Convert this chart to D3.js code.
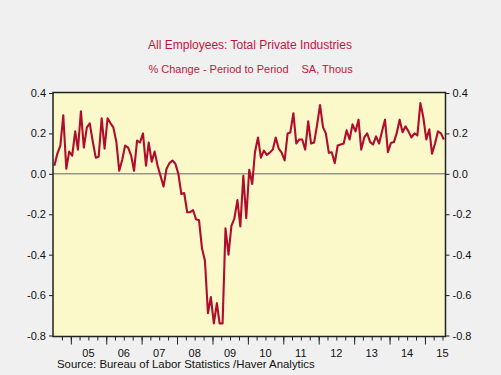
<!DOCTYPE html>
<html>
<meta charset="utf-8" />
<style>
  body { margin: 0; background: #f0f0f0; }
  text { font-family: "Liberation Sans", Arial, sans-serif; }
</style>
<svg width="501" height="375"></svg>
<script src="https://d3js.org/d3.v7.min.js"></script>
<script>
  // monthly % change, private payrolls, starting Jul 2004
  const firstMonth = "2004-07";
  const values = [
    0.04, 0.10, 0.14, 0.29, 0.025, 0.11, 0.09, 0.21, 0.12, 0.31, 0.13, 0.23,
    0.25, 0.16, 0.08, 0.085, 0.275, 0.125, 0.275, 0.25, 0.23, 0.16, 0.015, 0.07,
    0.14, 0.13, 0.09, 0.015, 0.165, 0.155, 0.2, 0.04, 0.155, 0.06, 0.11, 0.04,
    -0.01, -0.063, 0.025, 0.053, 0.066, 0.05, 0.0, -0.1, -0.095, -0.19, -0.19, -0.18,
    -0.225, -0.23, -0.37, -0.43, -0.69, -0.61, -0.74, -0.64, -0.74, -0.74, -0.27, -0.4,
    -0.257, -0.22, -0.13, -0.26, -0.01, -0.22, 0.02, -0.05, 0.107, 0.18, 0.08, 0.115,
    0.094, 0.105, 0.12, 0.18, 0.125, 0.105, 0.066, 0.2, 0.205, 0.3, 0.15, 0.17,
    0.17, 0.12, 0.26, 0.15, 0.155, 0.24, 0.34, 0.23, 0.2, 0.104, 0.107, 0.053,
    0.14, 0.145, 0.15, 0.215, 0.17, 0.245, 0.21, 0.268, 0.12, 0.18, 0.2, 0.157,
    0.145, 0.185, 0.15, 0.21, 0.268, 0.107, 0.152, 0.157, 0.2, 0.268, 0.206, 0.235,
    0.21, 0.18, 0.2, 0.19, 0.35, 0.28, 0.17, 0.22, 0.1, 0.15, 0.21, 0.2,
    0.17,
  ];
  const yTicks = [-0.8, -0.6, -0.4, -0.2, 0.0, 0.2, 0.4];
  const yearLabels = ["05", "06", "07", "08", "09", "10", "11", "12", "13", "14", "15"];

  const title = "All Employees: Total Private Industries";
  const subtitleLeft = "% Change - Period to Period";
  const subtitleRight = "SA, Thous";
  const source = "Source:  Bureau of Labor Statistics /Haver Analytics";

  const red = "#b00c2d";
  const textRed = "#c0163d";

  var svg = d3.select("svg");

  var start = d3.timeParse("%Y-%m")(firstMonth);
  var end = d3.timeMonth.offset(start, values.length);
  var data = values.map((v, i) => ({
    date: d3.timeDay.offset(d3.timeMonth.offset(start, i), 14),
    value: v,
  }));

  var plotLeft = 53, plotRight = 445.5, plotTop = 92.5, plotBottom = 336.5;
  var x = d3.scaleTime().domain([start, end]).range([plotLeft, plotRight]);
  var y = d3.scaleLinear().domain([-0.8, 0.4]).range([335.5, 93]);

  // plot area
  svg.append("rect")
    .attr("x", plotLeft).attr("y", plotTop)
    .attr("width", plotRight - plotLeft).attr("height", plotBottom - plotTop)
    .attr("fill", "#fbf9c9");

  // zero line
  svg.append("line")
    .attr("x1", plotLeft).attr("x2", plotRight)
    .attr("y1", y(0)).attr("y2", y(0))
    .attr("stroke", "#666").attr("stroke-width", 1);

  var line = d3.line().x((d) => x(d.date)).y((d) => y(d.value));
  svg.append("path")
    .datum(data)
    .attr("d", line)
    .attr("fill", "none")
    .attr("stroke", red)
    .attr("stroke-width", 2.1)
    .attr("stroke-linejoin", "round");

  svg.append("rect")
    .attr("x", plotLeft).attr("y", plotTop)
    .attr("width", plotRight - plotLeft).attr("height", plotBottom - plotTop)
    .attr("fill", "none")
    .attr("stroke", "#222").attr("stroke-width", 1.5);

  var fmt = (d) => d.toFixed(1);

  function styleAxis(g) {
    g.select(".domain").remove();
    g.selectAll(".tick line").attr("stroke", "#222");
    g.selectAll(".tick text")
      .attr("fill", "#111")
      .style("font-size", "11px")
      .style("font-family", "'Liberation Sans', Arial, sans-serif");
  }

  svg.append("g")
    .attr("transform", `translate(${plotLeft},0)`)
    .call(d3.axisLeft(y).tickValues(yTicks).tickFormat(fmt).tickSize(4).tickPadding(3))
    .call(styleAxis);

  svg.append("g")
    .attr("transform", `translate(${plotRight},0)`)
    .call(d3.axisRight(y).tickValues(yTicks).tickFormat(fmt).tickSize(4).tickPadding(3))
    .call(styleAxis);

  // quarterly minor ticks and yearly major ticks
  var quarters = d3.timeMonth.every(3).range(start, end).filter((d) => d > start);
  svg.append("g")
    .attr("transform", `translate(0,${plotBottom})`)
    .call(d3.axisBottom(x).tickValues(quarters).tickFormat("").tickSize(4))
    .call(styleAxis);

  var years = d3.timeYear.range(start, end);
  svg.append("g")
    .attr("transform", `translate(0,${plotBottom})`)
    .call(d3.axisBottom(x).tickValues(years).tickFormat("").tickSize(8))
    .call(styleAxis);

  svg.append("g")
    .selectAll("text")
    .data(yearLabels)
    .join("text")
    .attr("x", (d) => x(new Date(2000 + +d, 6, 1)))
    .attr("y", 356.5)
    .attr("text-anchor", "middle")
    .attr("fill", "#111")
    .style("font-size", "11px")
    .text((d) => d);

  svg.append("text")
    .attr("x", 250).attr("y", 49)
    .attr("text-anchor", "middle")
    .attr("fill", textRed)
    .style("font-size", "12px")
    .text(title);

  svg.append("text")
    .attr("x", 288.5).attr("y", 73)
    .attr("text-anchor", "end")
    .attr("fill", textRed)
    .style("font-size", "11px")
    .text(subtitleLeft);

  svg.append("text")
    .attr("x", 301.5).attr("y", 73)
    .attr("fill", textRed)
    .style("font-size", "11px")
    .text(subtitleRight);

  svg.append("text")
    .attr("x", 57).attr("y", 367.5)
    .attr("fill", "#111")
    .style("font-size", "11.4px")
    .text(source);
</script>
</html>
